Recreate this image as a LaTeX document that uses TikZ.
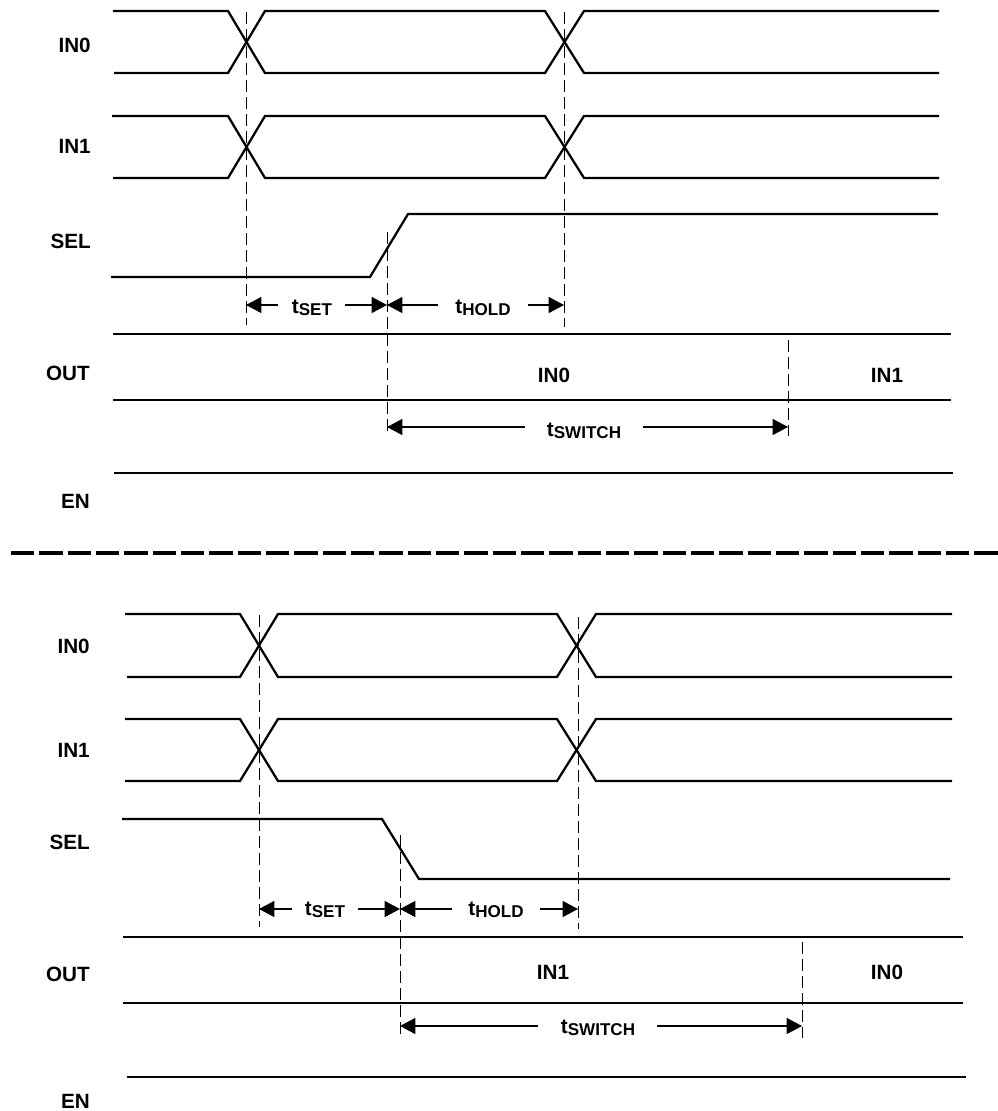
\documentclass[tikz,border=0pt]{standalone}
\usepackage{fontspec}
\setmainfont{Liberation Sans}
\usetikzlibrary{arrows.meta}
\newcommand{\tsub}[1]{t\raisebox{-2.2pt}{\fontsize{12.8pt}{14pt}\selectfont #1}}
\begin{document}
\begin{tikzpicture}[x=0.75pt,y=-0.75pt,
  sig/.style={line width=1.7pt, line join=miter},
  guide/.style={line width=0.75pt, dash pattern=on 9pt off 3.75pt},
  dim/.style={line width=0.8pt, -{Triangle[length=11.5pt,width=12pt]}},
  lbl/.style={anchor=base east, font=\fontsize{15.5pt}{18pt}\selectfont\bfseries, inner sep=0pt},
  val/.style={anchor=base, font=\fontsize{15.5pt}{18pt}\selectfont\bfseries, inner sep=0pt},
  sep/.style={line width=2.6pt, dash pattern=on 17.5pt off 3.75pt}]
\useasboundingbox (0,0) rectangle (997,1111);

% ---------------- top diagram ----------------
\node[lbl] (a-in0) at (91,52) {IN0};
\node[lbl] (a-in1) at (91,153) {IN1};
\node[lbl] (a-sel) at (91,248) {SEL};
\node[lbl] (a-out) at (90,380) {OUT};
\node[lbl] (a-en)  at (90,508) {EN};

\draw[sig] (113,11) -- (228,11) -- (265,73) -- (545,73) -- (584,11) -- (939,11);
\draw[sig] (114,73) -- (228,73) -- (265,11) -- (545,11) -- (584,73) -- (939,73);
\draw[sig] (112,116) -- (228,116) -- (265,178) -- (545,178) -- (584,116) -- (939,116);
\draw[sig] (113,178) -- (228,178) -- (265,116) -- (545,116) -- (584,178) -- (939,178);
\draw[sig] (111,277) -- (370,277) -- (408,214) -- (938,214);
\draw[sig] (113,334) -- (951,334);
\draw[sig] (113,400) -- (951,400);
\draw[sig] (114,473) -- (953,473);

\draw[guide] (246,12) -- (246,325);
\draw[guide] (564,12) -- (564,327);
\draw[guide] (387,232) -- (387,436);
\draw[guide] (788,340) -- (788,436);

\coordinate (a-g1) at (246,305);
\coordinate (a-g2) at (387,305);
\coordinate (a-g3) at (564,305);
\coordinate (a-s1) at (387,427);
\coordinate (a-s2) at (788,427);
\node[val] (a-tset)  at (312,313) {\tsub{SET}};
\node[val] (a-thold) at (483,313) {\tsub{HOLD}};
\node[val] (a-tsw)   at (584,436) {\tsub{SWITCH}};
\draw[dim] (278,305) -- (a-g1);
\draw[dim] (345,305) -- (a-g2);
\draw[dim] (438,305) -- (a-g2);
\draw[dim] (528,305) -- (a-g3);
\draw[dim] (525,427) -- (a-s1);
\draw[dim] (643,427) -- (a-s2);

\node[val] (a-v0) at (554,382) {IN0};
\node[val] (a-v1) at (887,382) {IN1};

% ---------------- separator ----------------
\draw[sep] (11,553) -- (1000,553);

% ---------------- bottom diagram ----------------
\node[lbl] (b-in0) at (90,653) {IN0};
\node[lbl] (b-in1) at (90,757) {IN1};
\node[lbl] (b-sel) at (90,849) {SEL};
\node[lbl] (b-out) at (90,981) {OUT};
\node[lbl] (b-en)  at (90,1108) {EN};

\draw[sig] (125,614) -- (240,614) -- (278,677) -- (557,677) -- (596,614) -- (952,614);
\draw[sig] (127,677) -- (240,677) -- (278,614) -- (557,614) -- (596,677) -- (952,677);
\draw[sig] (125,719) -- (240,719) -- (278,781) -- (557,781) -- (596,719) -- (952,719);
\draw[sig] (125,781) -- (240,781) -- (278,719) -- (557,719) -- (596,781) -- (952,781);
\draw[sig] (122,819) -- (382,819) -- (419,879) -- (950,879);
\draw[sig] (123,937) -- (963,937);
\draw[sig] (123,1003) -- (963,1003);
\draw[sig] (127,1077) -- (966,1077);

\draw[guide] (259,615) -- (259,927);
\draw[guide] (578,617) -- (578,929);
\draw[guide] (400,835) -- (400,1038);
\draw[guide] (802,942) -- (802,1038);

\coordinate (b-g1) at (259,909);
\coordinate (b-g2) at (400,909);
\coordinate (b-g3) at (578,909);
\coordinate (b-s1) at (400,1026);
\coordinate (b-s2) at (802,1026);
\node[val] (b-tset)  at (325,915) {\tsub{SET}};
\node[val] (b-thold) at (496,915) {\tsub{HOLD}};
\node[val] (b-tsw)   at (598,1033) {\tsub{SWITCH}};
\draw[dim] (292,909) -- (b-g1);
\draw[dim] (358,909) -- (b-g2);
\draw[dim] (452,909) -- (b-g2);
\draw[dim] (540,909) -- (b-g3);
\draw[dim] (538,1026) -- (b-s1);
\draw[dim] (657,1026) -- (b-s2);

\node[val] (b-v1) at (553,979) {IN1};
\node[val] (b-v0) at (887,979) {IN0};
\end{tikzpicture}
\end{document}
